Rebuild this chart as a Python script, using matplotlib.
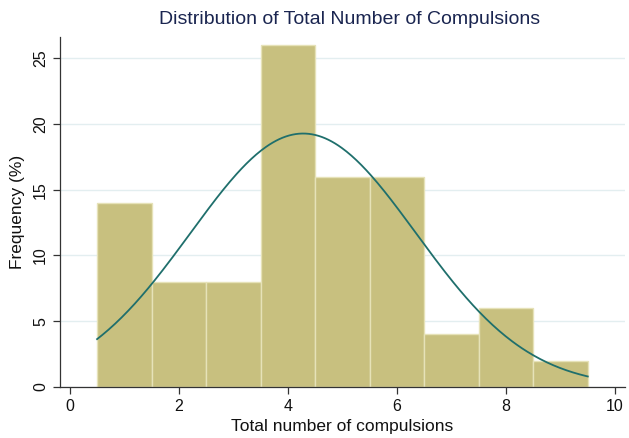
import numpy as np
import matplotlib
matplotlib.use("Agg")
import matplotlib.pyplot as plt

plt.rcParams['font.family'] = ['Liberation Sans', 'DejaVu Sans']

values = [1, 2, 3, 4, 5, 6, 7, 8, 9]
percent = [14, 8, 8, 26, 16, 16, 4, 6, 2]
n_obs = 50
xticks = [0, 2, 4, 6, 8, 10]
yticks = [0, 5, 10, 15, 20, 25]

vals = np.array(values, float)
pct = np.array(percent, float)
w = pct / pct.sum()
mean = (vals * w).sum()
sd = np.sqrt(((vals - mean) ** 2 * w).sum() * n_obs / (n_obs - 1))

fig = plt.figure(figsize=(6.29, 4.38), dpi=100)
ax = fig.add_axes([0.0954, 0.1164, 0.898, 0.799])

ax.bar(vals, pct, width=1.0, color='#c8c07f', edgecolor='#e6e2b8', linewidth=1.0, zorder=2)
xs = np.linspace(vals.min() - 0.5, vals.max() + 0.5, 300)
ys = 100 * np.exp(-0.5 * ((xs - mean) / sd) ** 2) / (sd * np.sqrt(2 * np.pi))
ax.plot(xs, ys, color='#1f6f6c', linewidth=1.3, zorder=3)

ax.set_xlim(-0.18, 10.18)
ax.set_ylim(0, 26.6)
ax.set_xticks(xticks)
ax.set_yticks(yticks)
ax.set_yticklabels([str(t) for t in yticks], rotation=90, va='center')
ax.yaxis.grid(True, color='#e3eef0', linewidth=1.0, zorder=0)
ax.set_axisbelow(True)
for s in ['top', 'right']:
    ax.spines[s].set_visible(False)
for s in ['left', 'bottom']:
    ax.spines[s].set_color('#333333')
    ax.spines[s].set_linewidth(0.9)
ax.tick_params(axis='both', labelsize=11.5, color='#333333', length=5, width=0.9, labelcolor='#111111')
ax.set_xlabel('Total number of compulsions', fontsize=12.5, color='#111111', labelpad=4)
ax.set_ylabel('Frequency (%)', fontsize=12.5, color='#111111', labelpad=6)
fig.text(0.555, 0.955, 'Distribution of Total Number of Compulsions', ha='center', va='center',
         fontsize=14, color='#1a2550')

fig.savefig('out.png', dpi=100)
